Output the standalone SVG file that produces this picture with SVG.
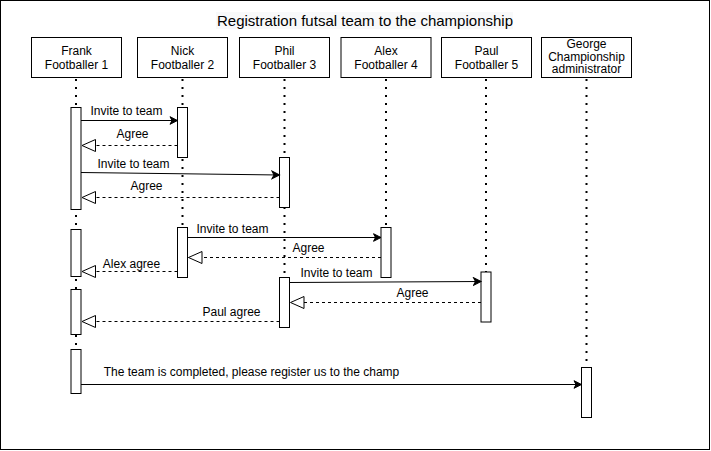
<svg xmlns="http://www.w3.org/2000/svg" width="711" height="451" viewBox="0 0 711 451">
<style>
text{font-family:"Liberation Sans",Arial,sans-serif;font-size:12px;fill:#000}
.t{text-anchor:middle}
.box{fill:#fff;stroke:#000;stroke-width:1}
.life{stroke:#000;stroke-width:2;stroke-dasharray:2 6;fill:none}
.act{fill:#fff;stroke:#000;stroke-width:1}
.msg{stroke:#000;stroke-width:1;fill:none}
.ret{stroke:#000;stroke-width:1;fill:none;stroke-dasharray:3 3}
</style>
<defs>
<marker id="a" markerUnits="userSpaceOnUse" markerWidth="10" markerHeight="10" viewBox="-8 -5 9 10" refX="0" refY="0" orient="auto">
<path d="M0,0 L-7.5,-3.8 L-5.5,0 L-7.5,3.8 Z" fill="#000" stroke="#000" stroke-width="1"/>
</marker>
<marker id="o" markerUnits="userSpaceOnUse" markerWidth="16" markerHeight="16" viewBox="-15 -8 16 16" refX="0" refY="0" orient="auto">
<path d="M0,0 L-13.5,-6 L-13.5,6 Z" fill="#fff" stroke="#000" stroke-width="1"/>
</marker>
</defs>
<rect x="0.5" y="0.5" width="709" height="449" fill="#fff" stroke="#000"/>
<g id="title">
<rect x="216" y="12" width="297" height="17" fill="#f8f9fa"/>
<text class="t" x="365" y="26" style="font-size:15px">Registration futsal team to the championship</text>
</g>
<g id="lifelines">
<line class="life" x1="76" y1="79" x2="76" y2="349"/>
<line class="life" x1="182.5" y1="79" x2="182.5" y2="227"/>
<line class="life" x1="284.5" y1="79" x2="284.5" y2="277"/>
<line class="life" x1="386" y1="79" x2="386" y2="227"/>
<line class="life" x1="486" y1="79" x2="486" y2="272"/>
<line class="life" x1="586.5" y1="79" x2="586.5" y2="367"/>
</g>
<g id="frank">
<rect class="box" x="31.5" y="37.5" width="90" height="40"/>
<text class="t" x="76.5" y="55">Frank</text>
<text class="t" x="76.5" y="68.5">Footballer 1</text>
<rect class="act" x="71" y="107.5" width="10" height="102"/>
<rect class="act" x="71" y="229.5" width="10" height="47"/>
<rect class="act" x="71" y="289.5" width="10" height="45"/>
<rect class="act" x="71" y="349.5" width="10" height="44"/>
</g>
<g id="nick">
<rect class="box" x="137.5" y="37.5" width="90" height="40"/>
<text class="t" x="182.5" y="55">Nick</text>
<text class="t" x="182.5" y="68.5">Footballer 2</text>
<rect class="act" x="177.5" y="107.5" width="10" height="50"/>
<rect class="act" x="177.5" y="227.5" width="10" height="50"/>
</g>
<g id="phil">
<rect class="box" x="239.5" y="37.5" width="90" height="40"/>
<text class="t" x="284.5" y="55">Phil</text>
<text class="t" x="284.5" y="68.5">Footballer 3</text>
<rect class="act" x="279.5" y="157.5" width="10" height="50"/>
<rect class="act" x="279.5" y="277.5" width="10" height="50"/>
</g>
<g id="alex">
<rect class="box" x="341" y="37.5" width="90" height="40"/>
<text class="t" x="386" y="55">Alex</text>
<text class="t" x="386" y="68.5">Footballer 4</text>
<rect class="act" x="381" y="227.5" width="10" height="50"/>
</g>
<g id="paul">
<rect class="box" x="441.5" y="37.5" width="90" height="40"/>
<text class="t" x="486.5" y="55">Paul</text>
<text class="t" x="486.5" y="68.5">Footballer 5</text>
<rect class="act" x="481" y="272" width="10" height="50"/>
</g>
<g id="george">
<rect class="box" x="541.5" y="37.5" width="90" height="40"/>
<text class="t" x="586.5" y="48">George</text>
<text class="t" x="586.5" y="60.5">Championship</text>
<text class="t" x="586.5" y="73">administrator</text>
<rect class="act" x="581.5" y="367.5" width="10" height="50"/>
</g>
<g id="connectors">
<line class="msg" x1="81" y1="120.5" x2="177.5" y2="120.5" marker-end="url(#a)"/>
<text class="t" x="126.5" y="115">Invite to team</text>
<line class="ret" x1="177.5" y1="145.5" x2="82" y2="145.5" marker-end="url(#o)"/>
<text class="t" x="132.5" y="137.5">Agree</text>
<line class="msg" x1="81" y1="172.5" x2="279.5" y2="175" marker-end="url(#a)"/>
<text class="t" x="133.5" y="167.5">Invite to team</text>
<line class="ret" x1="279.5" y1="197.5" x2="82" y2="197.5" marker-end="url(#o)"/>
<text class="t" x="146.5" y="189.5">Agree</text>
<line class="msg" x1="187.5" y1="237.5" x2="381" y2="237.5" marker-end="url(#a)"/>
<text class="t" x="232.5" y="232.5">Invite to team</text>
<line class="ret" x1="381" y1="257.5" x2="188.5" y2="257.5" marker-end="url(#o)"/>
<text class="t" x="308.5" y="251.5">Agree</text>
<line class="ret" x1="177.5" y1="271.5" x2="82" y2="271.5" marker-end="url(#o)"/>
<text class="t" x="131.5" y="267.5">Alex agree</text>
<line class="msg" x1="289.5" y1="282.5" x2="481" y2="281.5" marker-end="url(#a)"/>
<text class="t" x="336.5" y="277">Invite to team</text>
<line class="ret" x1="481" y1="302.5" x2="290.5" y2="302.5" marker-end="url(#o)"/>
<text class="t" x="412.5" y="296.5">Agree</text>
<line class="ret" x1="279.5" y1="321.5" x2="82" y2="321.5" marker-end="url(#o)"/>
<text class="t" x="231.5" y="316">Paul agree</text>
<line class="msg" x1="81" y1="384.5" x2="581.5" y2="384.5" marker-end="url(#a)"/>
<text class="t" x="251.5" y="376">The team is completed, please register us to the champ</text>
</g>
</svg>
